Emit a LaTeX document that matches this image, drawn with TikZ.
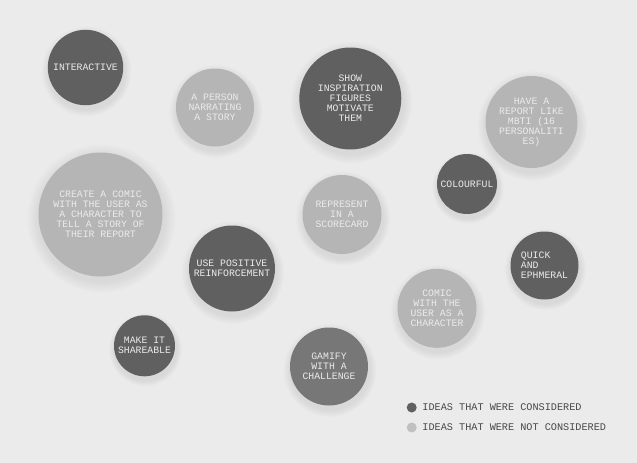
\documentclass[tikz,border=0pt]{standalone}
\usepackage{fontspec}
\usepackage{xcolor}
\setmonofont{Liberation Mono}
\usetikzlibrary{shadows}

\definecolor{paper}{HTML}{EBEBEB}
\definecolor{darkidea}{HTML}{606060}
\definecolor{mididea}{HTML}{777777}
\definecolor{lightidea}{HTML}{B5B5B5}
\definecolor{legendtext}{HTML}{484848}

\begin{document}
\begin{tikzpicture}[x=1pt, y=-1pt,
    idea/.style={circle, inner sep=0pt, align=center, text=white!92!black,
        font=\ttfamily\fontsize{9.8}{10}\selectfont,
        circular drop shadow={shadow xshift=0.5pt, shadow yshift=-3pt,
            shadow scale=1.2, opacity=0.16}},
    considered/.style={idea, fill=darkidea},
    skipped/.style={idea, fill=lightidea},
    dot/.style={circle, inner sep=0pt, minimum size=10pt}]
    % Background
    \fill[paper] (0,0) rectangle (637,463);
    \useasboundingbox (0,0) rectangle (637,463);
    % Ideas
    \node[considered, minimum size=75.4pt] (interactive) at (85.5,67.5) {INTERACTIVE};
    \node[skipped, minimum size=78pt] (narrating) at (215,107.5) {A PERSON\\NARRATING\\A STORY};
    \node[considered, minimum size=102pt] (inspiration) at (350.3,98.5) {SHOW\\INSPIRATION\\FIGURES\\MOTIVATE\\THEM};
    \node[skipped, minimum size=92pt] (mbti) at (531.5,122) {HAVE A\\REPORT LIKE\\MBTI (16\\PERSONALITI\\ES)};
    \node[skipped, minimum size=124pt] (comic) at (100.5,214.5) {CREATE A COMIC\\WITH THE USER AS\\A CHARACTER TO\\TELL A STORY OF\\THEIR REPORT};
    \node[considered, minimum size=60pt] (colourful) at (467,184) {COLOURFUL};
    \node[skipped, minimum size=79pt] (scorecard) at (342,214.5) {REPRESENT\\IN A\\SCORECARD};
    \node[considered, minimum size=86pt] (positive) at (232,268.5) {USE POSITIVE\\REINFORCEMENT};
    \node[considered, minimum size=68pt, align=left] (quick) at (544.5,265.5) {QUICK\\AND\\EPHMERAL};
    \node[skipped, minimum size=79pt] (character) at (437,308.3) {COMIC\\WITH THE\\USER AS A\\CHARACTER};
    \node[considered, minimum size=61pt] (shareable) at (144.5,345.8) {MAKE IT\\SHAREABLE};
    \node[idea, fill=mididea, minimum size=78pt] (gamify) at (329,366.5) {GAMIFY\\WITH A\\CHALLENGE};
    % Legend
    \node[dot, fill=darkidea] (yesdot) at (411.7,407.5) {};
    \node[dot, fill=lightidea!85!white] (nodot) at (411.7,427.5) {};
    \node[right=2pt, text=legendtext, font=\ttfamily\fontsize{10.2}{11}\selectfont] at (yesdot.east) {IDEAS THAT WERE CONSIDERED};
    \node[right=2pt, text=legendtext, font=\ttfamily\fontsize{10.2}{11}\selectfont] at (nodot.east) {IDEAS THAT WERE NOT CONSIDERED};
\end{tikzpicture}
\end{document}
